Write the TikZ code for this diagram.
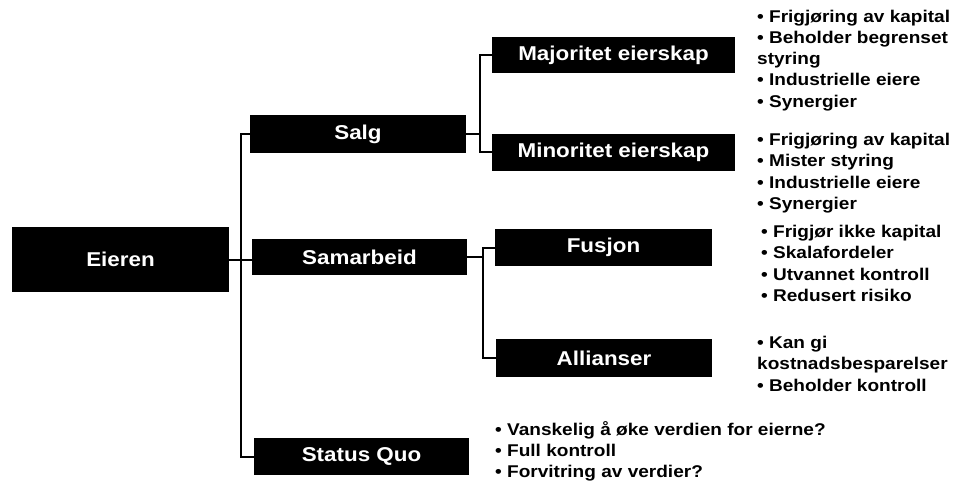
\documentclass[tikz,border=0pt]{standalone}
\usepackage{fontspec}
\setmainfont[FakeStretch=1.12]{Liberation Sans}
\tikzset{
  box/.style={fill=black, draw=none, text=white, font=\bfseries\fontsize{20}{24}\selectfont, inner sep=0pt},
  list/.style={anchor=north west, inner sep=0pt, align=left, font=\bfseries\fontsize{17}{21.3}\selectfont},
  link/.style={line width=2pt, draw=black}
}
\begin{document}
\begin{tikzpicture}[x=1pt,y=-1pt]
\useasboundingbox (0,0) rectangle (955,481);
% boxes
\node[box, minimum width=217pt, minimum height=65pt] (eieren) at (120.5,259.5) {Eieren};
\node[box, minimum width=216pt, minimum height=38pt] (salg) at (358,134) {Salg};
\node[box, minimum width=215pt, minimum height=36pt] (samarbeid) at (359.5,257) {Samarbeid};
\node[box, minimum width=215pt, minimum height=37pt] (status) at (361.5,456.5) {Status Quo};
\node[box, minimum width=243pt, minimum height=36pt] (major) at (613.5,55) {Majoritet eierskap};
\node[box, minimum width=243pt, minimum height=37pt] (minor) at (613.5,152.5) {Minoritet eierskap};
\node[box, minimum width=217pt, minimum height=37pt] (fusjon) at (603.5,247.5) {Fusjon};
\node[box, minimum width=216pt, minimum height=38pt] (allianser) at (604,358) {Allianser};
% buses
\coordinate (b1) at (241,300);
\coordinate (b2) at (480,100);
\coordinate (b3) at (483,300);
\draw[link] (salg.west) -| (b1) |- (status.west);
\draw[link] (eieren.east) -- (eieren.east -| samarbeid.west);
\draw[link] (major.west) -| (b2) |- (minor.west);
\draw[link] (salg.east) -- (salg.east -| b2);
\draw[link] (fusjon.west) -| (b3) |- (allianser.west);
\draw[link] (samarbeid.east) -- (samarbeid.east -| b3);
% lists
\node[list] (lmajor) at (757,9.5) {• Frigjøring av kapital\\• Beholder begrenset\\styring\\• Industrielle eiere\\• Synergier};
\node[list] (lminor) at (757,133) {• Frigjøring av kapital\\• Mister styring\\• Industrielle eiere\\• Synergier};
\node[list] (lfusjon) at (761,225) {• Frigjør ikke kapital\\• Skalafordeler\\• Utvannet kontroll\\• Redusert risiko};
\node[list] (lallianser) at (757,336) {• Kan gi\\kostnadsbesparelser\\• Beholder kontroll};
\node[list] (lstatus) at (495,421) {• Vanskelig å øke verdien for eierne?\\• Full kontroll\\• Forvitring av verdier?};
\end{tikzpicture}
\end{document}
